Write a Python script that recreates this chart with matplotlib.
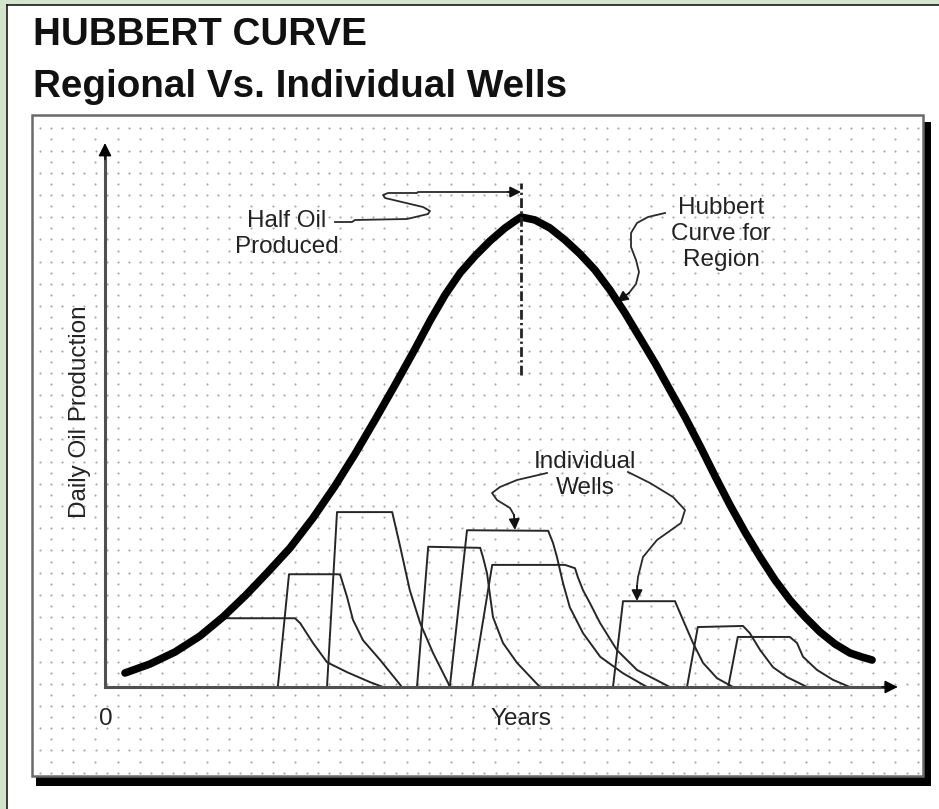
import numpy as np
import matplotlib
matplotlib.use('Agg')
import matplotlib.pyplot as plt
from matplotlib.patches import Rectangle

plt.rcParams['font.family'] = ['Liberation Sans', 'DejaVu Sans']

# Data (years on x, daily production on y, arbitrary units)
# ____________________________________________________________
hubbert_x = [2.5, 5.62, 8.75, 11.88, 14.75, 17.5, 20.25, 23.12, 26.0, 28.75,
             31.25, 33.75, 36.25, 38.75, 40.62, 42.5, 44.38, 46.25, 48.12,
             50.0, 51.25, 52.0, 53.75, 55.62, 57.5, 59.38, 61.25, 63.12,
             65.0, 66.88, 68.75, 70.62, 72.5, 74.38, 76.25, 78.12, 80.0,
             81.88, 83.75, 85.62, 87.5, 89.38, 91.25, 93.12, 94.62, 95.88]
hubbert_y = [2.55, 4.18, 6.36, 9.27, 12.73, 16.55, 20.73, 25.27, 30.73, 36.55,
             42.36, 48.55, 54.91, 61.45, 66.55, 71.27, 75.27, 78.36, 81.09,
             83.45, 84.73, 85.45, 84.91, 83.45, 81.27, 78.73, 75.82, 72.18,
             68.0, 63.45, 58.91, 54.0, 49.09, 43.82, 38.36, 33.09, 28.18,
             23.64, 19.45, 15.82, 12.73, 10.0, 7.82, 6.18, 5.45, 4.91]

wells_x = [
    [14.8, 23.75, 24.4, 26.0, 27.75, 30.25, 33.1, 34.75],
    [21.6, 23.0, 29.1, 29.4, 30.25, 31.0, 32.25, 34.4, 36.9, 37.1],
    [27.75, 29.0, 35.9, 36.9, 38.1, 39.4, 41.0, 42.9, 43.1],
    [39.0, 40.4, 46.9, 47.25, 47.75, 48.5, 49.75, 51.5, 54.1, 54.4],
    [43.1, 45.25, 55.4, 56.0, 56.5, 57.25, 58.1, 59.75, 61.9, 64.75, 67.75],
    [45.9, 48.4, 57.5, 58.75, 59.1, 59.75, 60.6, 61.9, 64.0, 66.5, 70.6],
    [63.5, 64.75, 71.25, 72.25, 73.5, 74.75, 76.5, 78.5],
    [72.75, 74.1, 79.75, 80.6, 81.9, 83.5, 85.25, 87.75],
    [77.9, 79.1, 85.6, 86.5, 87.25, 89.0, 91.0, 93.1],
]
wells_y = [
    [12.5, 12.5, 11.6, 8.0, 4.5, 2.7, 0.9, 0.0],
    [0.0, 20.5, 20.5, 20.4, 16.4, 12.2, 8.5, 4.9, 0.4, 0.0],
    [0.0, 31.8, 31.8, 25.5, 17.6, 11.6, 6.2, 0.7, 0.0],
    [0.0, 25.5, 25.3, 23.6, 20.7, 12.7, 8.0, 4.4, 0.4, 0.0],
    [0.0, 28.5, 28.4, 26.2, 23.6, 18.9, 14.5, 9.8, 5.5, 2.5, 0.0],
    [0.0, 22.2, 22.2, 21.6, 20.0, 17.6, 15.3, 11.6, 6.7, 3.1, 0.0],
    [0.0, 15.6, 15.6, 12.2, 8.0, 4.4, 1.6, 0.0],
    [0.0, 10.9, 11.1, 9.8, 6.7, 3.6, 1.8, 0.0],
    [0.0, 9.1, 9.1, 8.0, 5.5, 3.1, 1.3, 0.0],
]

X_END, Y_END = 99.1, 98.9   # axis arrow tips

# Figure + pixel-space background axes
# ____________________________________________________________
W, H = 939, 809
fig = plt.figure(figsize=(W / 100, H / 100), dpi=100, facecolor='white')
bg = fig.add_axes([0, 0, 1, 1])
bg.set_xlim(0, W)
bg.set_ylim(H, 0)
bg.axis('off')

# light green page frame (top + left)
bg.add_patch(Rectangle((0, 0), W, 4.5, color='#d3e3cc', lw=0, zorder=0))
bg.add_patch(Rectangle((0, 0), 7, H, color='#d3e3cc', lw=0, zorder=0))
bg.plot([7, W], [4.5, 4.5], color='#1a1a1a', lw=1.2, zorder=1)
bg.plot([7, 7], [4.5, H], color='#1a1a1a', lw=1.2, zorder=1)

# chart box with drop shadow
bx0, by0, bx1, by1 = 32, 115, 923, 776
bg.add_patch(Rectangle((bx0 + 4, by0 + 7), bx1 - bx0 + 4, by1 - by0 + 3,
                       facecolor='black', lw=0, zorder=1))
bg.add_patch(Rectangle((bx0, by0), bx1 - bx0, by1 - by0, facecolor='white',
                       edgecolor='#6a6a6a', lw=1.8, zorder=2))

# dot grid
step = 11.11
full_rows = np.arange(128.3, by1, 2 * step)
half_rows = np.arange(139.4, by1, 2 * step)
fx = np.arange(40, bx1 - 2, step)
hx = np.arange(51, bx1 - 2, 2 * step)
gx, gy = np.meshgrid(fx, full_rows)
bg.scatter(gx.ravel(), gy.ravel(), s=2.4, color='#a8a8a8', lw=0, zorder=3)
gx, gy = np.meshgrid(hx, half_rows)
bg.scatter(gx.ravel(), gy.ravel(), s=2.4, color='#a8a8a8', lw=0, zorder=3)

# titles
bg.text(33, 45, 'HUBBERT CURVE', fontsize=27.8, fontweight='bold',
        ha='left', va='baseline', color='#111111')
bg.text(33, 97, 'Regional Vs. Individual Wells', fontsize=27.8,
        fontweight='bold', ha='left', va='baseline', color='#111111')

# axis labels
TXT = dict(color='#222222', fontsize=17.5)
bg.text(106, 719, '0', ha='center', va='center', zorder=5, **TXT)
bg.text(521, 719, 'Years', ha='center', va='center', zorder=5, **TXT)
bg.text(80, 412, 'Daily Oil Production', rotation=90, ha='center',
        va='center', zorder=5, **TXT)

# annotation texts
bg.text(287, 234, 'Half Oil\nProduced', ha='center', va='center',
        linespacing=1.2, zorder=5, **TXT)
bg.text(721, 234, 'Hubbert\nCurve for\nRegion', ha='center', va='center',
        linespacing=1.25, zorder=5, **TXT)
bg.text(585, 475, 'Individual\nWells', ha='center', va='center',
        linespacing=1.2, zorder=5, **TXT)

# connectors
LN = dict(color='#2a2a2a', lw=1.3, zorder=5)
ARW = dict(arrowstyle='-|>', color='#111111', lw=1.3, mutation_scale=16,
           shrinkA=0, shrinkB=0)


def connector(pts, tip):
    xs, ys = zip(*pts)
    bg.plot(xs, ys, **LN)
    bg.annotate('', xy=tip, xytext=pts[-1], arrowprops=ARW, zorder=6)


connector([(335, 222), (352, 222), (355, 220), (407, 219), (428, 214),
           (430, 211), (423, 207), (385, 198), (383, 195), (388, 193),
           (417, 193), (418, 192), (508, 192)], (521, 192))
connector([(665, 213), (648, 217), (637, 223), (631, 233), (631, 247),
           (636, 260), (639, 272), (636, 284), (629, 293)], (617, 302))
connector([(547, 473), (517, 480), (500, 487), (492, 493), (497, 500),
           (510, 508), (514, 515)], (515, 530))
connector([(628, 472), (650, 483), (673, 497), (685, 510), (681, 523),
           (657, 540), (643, 557), (638, 577), (637, 586)], (637, 601))

# Data axes, sized so its origin sits at the axis crossing
# ____________________________________________________________
ax = fig.add_axes([bx0 / W, 1 - by1 / H, (bx1 - bx0) / W, (by1 - by0) / H])
ax.set_xlim((bx0 - 105) / 8, (bx1 - 105) / 8)
ax.set_ylim((687 - by1) / 5.5, (687 - by0) / 5.5)
ax.patch.set_alpha(0)
ax.axis('off')

for xs, ys in zip(wells_x, wells_y):
    ax.plot(xs, ys, color='#262626', lw=1.4, solid_joinstyle='round', zorder=3)

ax.plot(hubbert_x, hubbert_y, color='black', lw=5.5, solid_capstyle='round',
        solid_joinstyle='round', zorder=4)

peak_x = hubbert_x[int(np.argmax(hubbert_y))]
ax.plot([peak_x, peak_x], [56.7, 91.6], color='#222222', lw=2.0,
        linestyle=(0, (3.5, 1.2, 0.8, 1.2)), zorder=4)

# axes with black arrowheads
ax.plot([0, X_END - 1.5], [0, 0], color='#505050', lw=2.2, zorder=5)
ax.plot([0, 0], [0, Y_END - 2], color='#505050', lw=2.2, zorder=5)
HEAD = dict(arrowstyle='-|>', color='black', lw=1, mutation_scale=20,
            shrinkA=0, shrinkB=0)
ax.annotate('', xy=(X_END, 0), xytext=(X_END - 2, 0), arrowprops=HEAD,
            zorder=6)
ax.annotate('', xy=(0, Y_END), xytext=(0, Y_END - 3), arrowprops=HEAD,
            zorder=6)

fig.savefig('out.png', dpi=100, facecolor='white')
